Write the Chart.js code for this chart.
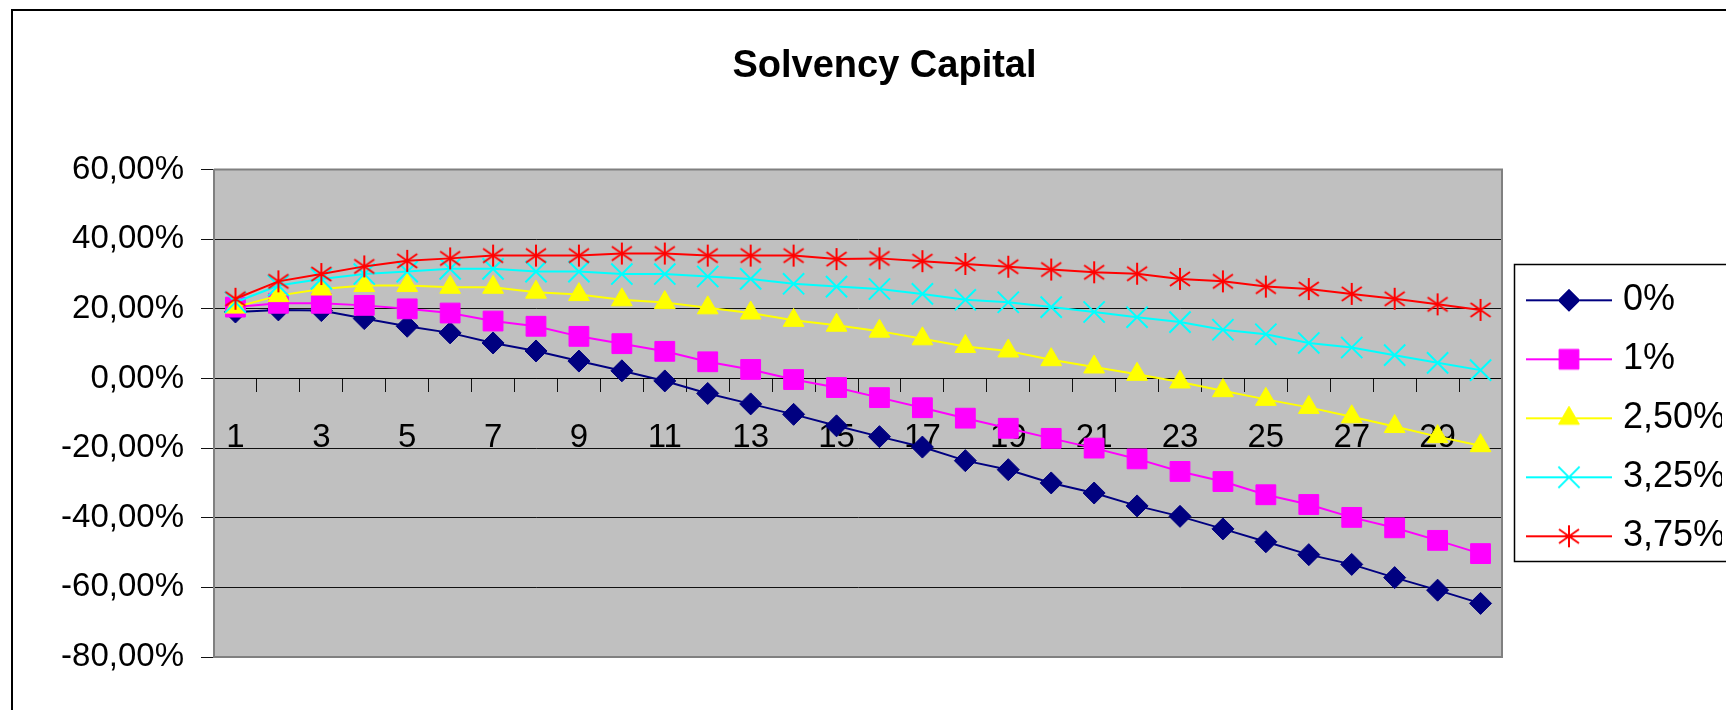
<!DOCTYPE html>
<html>
<head>
<meta charset="utf-8">
<script src="https://cdn.jsdelivr.net/npm/chart.js@4.4.1/dist/chart.umd.min.js"></script>
<style>
  html, body { margin: 0; padding: 0; background: #fff; }
  #wrap { width: 1726px; height: 710px; }
</style>
</head>
<body>
<div id="wrap"><canvas id="solvency-chart" width="1726" height="710"></canvas></div>
<script>
// years 1..30
const categories = [1, 2, 3, 4, 5, 6, 7, 8, 9, 10, 11, 12, 13, 14, 15,
                    16, 17, 18, 19, 20, 21, 22, 23, 24, 25, 26, 27, 28, 29, 30];

// values in percent
const rate0 = [19.1, 19.7, 19.5, 17.2, 15.0, 13.1, 10.2, 7.9, 5.0, 2.2, -0.7, -4.3, -7.3, -10.3, -13.6,
               -16.7, -19.7, -23.6, -26.2, -30.0, -32.9, -36.6, -39.6, -43.2, -46.9, -50.6, -53.4, -57.2, -60.8, -64.6];
const rate1 = [20.5, 21.6, 21.6, 21.0, 20.0, 18.8, 16.5, 15.0, 12.1, 10.0, 7.8, 4.8, 2.6, -0.3, -2.6,
               -5.5, -8.4, -11.4, -14.3, -17.2, -20.0, -23.1, -26.7, -29.6, -33.4, -36.2, -39.9, -42.9, -46.5, -50.3];
const rate250 = [20.5, 23.8, 25.7, 26.7, 26.7, 26.2, 26.2, 24.8, 24.1, 22.6, 21.8, 20.3, 18.8, 16.7, 15.3,
                 13.6, 11.4, 9.2, 7.9, 5.4, 3.3, 1.2, -1.0, -3.5, -6.0, -8.3, -11.0, -13.8, -16.7, -19.3];
const rate325 = [21.9, 26.7, 28.6, 30.0, 30.7, 31.5, 31.5, 30.7, 30.7, 30.0, 30.0, 29.3, 28.6, 27.2, 26.4,
                 25.7, 24.3, 22.6, 21.9, 20.5, 19.1, 17.6, 16.2, 14.0, 12.7, 10.2, 8.9, 6.7, 4.5, 2.4];
const rate375 = [22.9, 27.9, 30.0, 32.2, 33.8, 34.5, 35.3, 35.3, 35.3, 35.9, 35.9, 35.3, 35.3, 35.3, 34.3,
                 34.5, 33.7, 32.9, 32.1, 31.3, 30.5, 30.1, 28.6, 27.9, 26.4, 25.7, 24.3, 22.9, 21.3, 19.7];

const seriesNames = ['0%', '1%', '2,50%', '3,25%', '3,75%'];
const yMin = -80, yMax = 60, yStep = 20;

const FONT = "'Liberation Sans', Arial, sans-serif";

// excel style asterisk marker
function makeStar(color) {
    const c = document.createElement('canvas');
    c.width = 24; c.height = 24;
    const ctx = c.getContext('2d');
    ctx.strokeStyle = color;
    ctx.lineWidth = 2;
    ctx.beginPath();
    ctx.moveTo(12, 1); ctx.lineTo(12, 23);
    ctx.moveTo(2, 5); ctx.lineTo(22, 19);
    ctx.moveTo(22, 5); ctx.lineTo(2, 19);
    ctx.stroke();
    return c;
}

function series(label, data, color, style, radius, pbw) {
    return {
        label: label,
        data: data,
        borderColor: color,
        backgroundColor: color,
        borderWidth: 2,
        tension: 0,
        pointStyle: style,
        pointRadius: radius,
        pointHoverRadius: radius,
        pointBackgroundColor: color,
        pointBorderColor: color,
        pointBorderWidth: pbw
    };
}

const datasets = [
    series(seriesNames[0], rate0, '#000080', 'rectRot', 11, 1),
    series(seriesNames[1], rate1, '#FF00FF', 'rect', 14, 1),
    series(seriesNames[2], rate250, '#FFFF00', 'triangle', 12, 1),
    series(seriesNames[3], rate325, '#00FFFF', 'crossRot', 15, 2),
    series(seriesNames[4], rate375, '#FF0000', makeStar('#FF0000'), 12, 1)
];
// later series on top like in excel
datasets.forEach((d, i) => { d.order = datasets.length - i; });

const sampleCache = {};
function legendSample(ds, i) {
    if (sampleCache[i]) return sampleCache[i];
    const c = document.createElement('canvas');
    c.width = 94; c.height = 30;
    const ctx = c.getContext('2d');
    ctx.strokeStyle = ds.borderColor;
    ctx.lineWidth = 2;
    ctx.beginPath();
    ctx.moveTo(8, 15); ctx.lineTo(94, 15);
    ctx.stroke();
    if (ds.pointStyle instanceof HTMLCanvasElement) {
        ctx.drawImage(ds.pointStyle, 51 - ds.pointStyle.width / 2, 15 - ds.pointStyle.height / 2);
    } else {
        ctx.fillStyle = ds.pointBackgroundColor;
        ctx.strokeStyle = ds.pointBorderColor;
        ctx.lineWidth = ds.pointBorderWidth;
        Chart.helpers.drawPoint(ctx, {
            pointStyle: ds.pointStyle, radius: ds.pointRadius, rotation: 0, borderWidth: ds.pointBorderWidth
        }, 51, 15);
    }
    sampleCache[i] = c;
    return c;
}

const framePlugin = {
    id: 'frame',
    beforeDraw(chart) {
        const {ctx, chartArea: a} = chart;
        ctx.save();
        ctx.fillStyle = '#C0C0C0';
        ctx.fillRect(a.left, a.top, a.right - a.left, a.bottom - a.top);
        ctx.restore();
    },
    beforeDatasetsDraw(chart) {
        const {ctx, chartArea: a} = chart;
        ctx.save();
        ctx.strokeStyle = '#808080';
        ctx.lineWidth = 2;
        ctx.beginPath();
        ctx.moveTo(a.left, a.top); ctx.lineTo(a.right, a.top);
        ctx.lineTo(a.right, a.bottom); ctx.lineTo(a.left, a.bottom);
        ctx.stroke();
        ctx.restore();
    },
    afterDraw(chart) {
        const ctx = chart.ctx;
        ctx.save();
        // outer chart frame
        ctx.strokeStyle = '#000';
        ctx.lineWidth = 2;
        ctx.strokeRect(12, 10, 1800, 800);
        // legend box
        const lg = chart.legend;
        const hb = lg.legendHitBoxes;
        if (hb && hb.length) {
            const half = 18;
            const top = Math.round(hb[0].top + half - 36) + 0.5;
            const bottom = Math.round(hb[hb.length - 1].top + half + 25) + 0.5;
            const left = Math.round(lg.left + 12) + 0.5;
            ctx.lineWidth = 1.5;
            ctx.strokeRect(left, top, 400, bottom - top);
        }
        ctx.restore();
    }
};

new Chart(document.getElementById('solvency-chart'), {
    type: 'line',
    data: { labels: categories, datasets: datasets },
    options: {
        responsive: false,
        animation: false,
        layout: { padding: { left: 47, right: 4, top: 0, bottom: 53 } },
        plugins: {
            title: {
                display: true,
                text: 'Solvency Capital',
                color: '#000',
                font: { family: FONT, size: 38, weight: 'bold' },
                padding: { top: 44, bottom: 80 }
            },
            legend: {
                position: 'right',
                fullSize: false,
                maxWidth: 220,
                // empty title only nudges the items down a little
                title: { display: true, text: ' ', font: { size: 5 }, padding: { top: 2, bottom: 2 } },
                labels: {
                    usePointStyle: true,
                    pointStyleWidth: 80,
                    boxHeight: 36,
                    padding: 23,
                    color: '#000',
                    font: { family: FONT, size: 36 },
                    generateLabels: chart => chart.data.datasets.map((ds, i) => ({
                        text: ds.label,
                        pointStyle: legendSample(ds, i),
                        fillStyle: ds.borderColor,
                        strokeStyle: ds.borderColor,
                        lineWidth: 0,
                        hidden: false,
                        datasetIndex: i,
                        fontColor: '#000'
                    }))
                }
            },
            tooltip: { enabled: false }
        },
        scales: {
            x: {
                type: 'category',
                position: { y: 0 },
                offset: true,
                grid: {
                    display: true,
                    drawOnChartArea: false,
                    drawTicks: true,
                    tickLength: 13,
                    color: '#111',
                    offset: true
                },
                border: { display: true, color: '#000', width: 1 },
                ticks: {
                    autoSkip: false,
                    maxRotation: 0,
                    padding: 27,
                    color: '#000',
                    font: { family: FONT, size: 33 },
                    callback: (v, i) => (i % 2 === 0 ? String(categories[i]) : '')
                }
            },
            y: {
                min: yMin,
                max: yMax,
                afterFit: scale => { scale.width = 167; },
                grid: {
                    color: '#111',
                    lineWidth: 1,
                    tickLength: 13,
                    tickColor: '#111'
                },
                border: { display: true, color: '#808080', width: 2 },
                ticks: {
                    stepSize: yStep,
                    padding: 17,
                    color: '#000',
                    font: { family: FONT, size: 33 },
                    callback: v => v.toFixed(2).replace('.', ',') + '%'
                }
            }
        }
    },
    plugins: [framePlugin]
});
</script>
</body>
</html>
